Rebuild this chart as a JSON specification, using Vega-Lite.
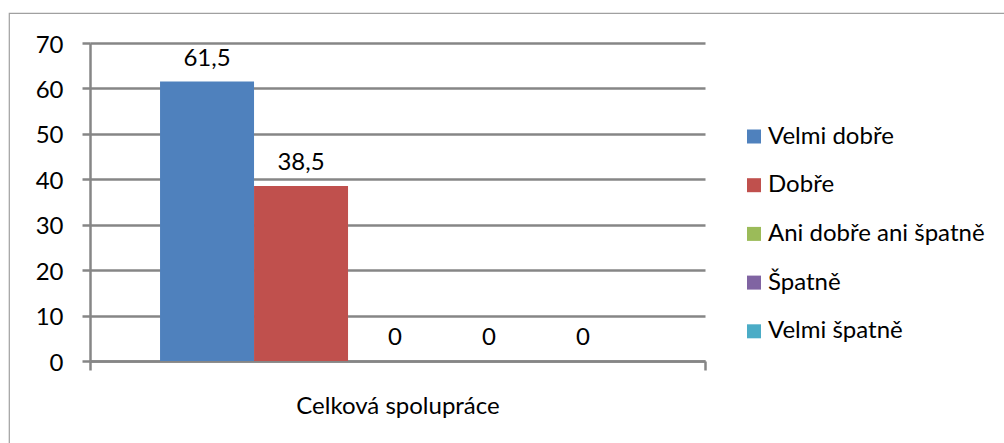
{
  "$schema": "https://vega.github.io/schema/vega-lite/v6.json",
  "autosize": {"type": "none"},
  "padding": {"left": 9, "top": 13, "right": -10, "bottom": -10},
  "width": 1005,
  "height": 440,
  "background": "white",
  "data": {
    "values": [
      {"kategorie": "Celková spolupráce", "hodnoceni": "Velmi dobře", "podil": 61.5},
      {"kategorie": "Celková spolupráce", "hodnoceni": "Dobře", "podil": 38.5},
      {"kategorie": "Celková spolupráce", "hodnoceni": "Ani dobře ani špatně", "podil": 0},
      {"kategorie": "Celková spolupráce", "hodnoceni": "Špatně", "podil": 0},
      {"kategorie": "Celková spolupráce", "hodnoceni": "Velmi špatně", "podil": 0}
    ]
  },
  "encoding": {
    "x": {
      "field": "kategorie",
      "type": "nominal",
      "scale": {"range": [81, 696], "paddingInner": 0, "paddingOuter": 0},
      "axis": {
        "title": null,
        "orient": "bottom",
        "offset": -92,
        "labelAngle": 0,
        "tickBand": "extent",
        "grid": false,
        "domainColor": "#868686",
        "domainWidth": 2.5,
        "tickColor": "#868686",
        "tickWidth": 2.5,
        "tickSize": 9,
        "labelPadding": 24,
        "labelLimit": 500,
        "labelFont": "Lato",
        "labelFontSize": 24,
        "labelColor": "#000000"
      }
    },
    "xOffset": {
      "field": "hodnoceni",
      "type": "nominal",
      "sort": ["Velmi dobře", "Dobře", "Ani dobře ani špatně", "Špatně", "Velmi špatně"],
      "scale": {"paddingInner": 0, "paddingOuter": 0.7713, "align": 0.483}
    },
    "y": {
      "field": "podil",
      "type": "quantitative",
      "scale": {"domain": [0, 70], "range": [348, 30], "nice": false, "zero": true},
      "axis": {
        "title": null,
        "orient": "left",
        "offset": -81,
        "values": [0, 10, 20, 30, 40, 50, 60, 70],
        "grid": true,
        "gridColor": "#868686",
        "gridWidth": 2.5,
        "domainColor": "#868686",
        "domainWidth": 2.5,
        "tickColor": "#868686",
        "tickWidth": 2.5,
        "tickSize": 8,
        "labelPadding": 19,
        "labelOffset": 2,
        "labelFont": "Lato",
        "labelFontSize": 24,
        "labelColor": "#000000"
      }
    }
  },
  "layer": [
    {
      "mark": {"type": "bar"},
      "encoding": {
        "color": {
          "field": "hodnoceni",
          "type": "nominal",
          "scale": {
            "domain": ["Velmi dobře", "Dobře", "Ani dobře ani špatně", "Špatně", "Velmi špatně"],
            "range": ["#4F81BD", "#C0504D", "#9BBB59", "#8064A2", "#4BACC6"]
          },
          "legend": {
            "title": null,
            "orient": "none",
            "legendX": 733,
            "legendY": 111.5,
            "symbolType": "square",
            "symbolSize": 196,
            "symbolStrokeWidth": 0,
            "symbolOpacity": 1,
            "labelOffset": 2,
            "rowPadding": 24.7,
            "labelFont": "Lato",
            "labelFontSize": 24,
            "labelColor": "#000000",
            "labelLimit": 400
          }
        }
      }
    },
    {
      "mark": {"type": "text", "baseline": "alphabetic", "align": "center", "dy": -16, "font": "Lato", "fontSize": 24, "color": "#000000"},
      "encoding": {
        "text": {"field": "podil", "type": "quantitative", "format": ".1~f"}
      }
    }
  ],
  "config": {
    "view": {"stroke": "#a0a0a0", "strokeWidth": 1.2},
    "locale": {
      "number": {"decimal": ",", "thousands": " ", "grouping": [3], "currency": ["", " Kč"]}
    }
  }
}
